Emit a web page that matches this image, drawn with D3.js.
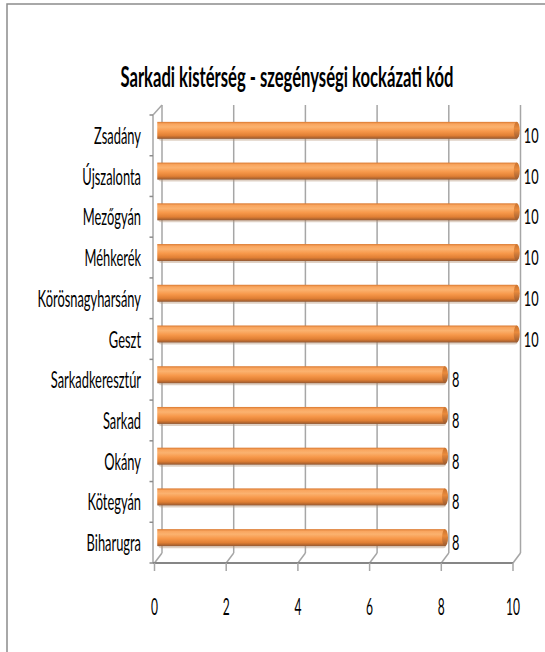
<!DOCTYPE html>
<html>
<head>
<meta charset="utf-8">
<script src="https://cdnjs.cloudflare.com/ajax/libs/d3/7.8.5/d3.min.js"></script>
<style>
  body { margin: 0; background: #fff; }
  svg { display: block; }
  text { font-family: Lato, "Open Sans", sans-serif; fill: #000; }
</style>
</head>
<body>
<div id="chart"></div>
<script>
// data, top to bottom as in the chart
const categories = ["Zsadány", "Újszalonta", "Mezőgyán", "Méhkerék", "Körösnagyharsány", "Geszt",
  "Sarkadkeresztúr", "Sarkad", "Okány", "Kötegyán", "Biharugra"];
const values = [10, 10, 10, 10, 10, 10, 8, 8, 8, 8, 8];
const tickValues = [0, 2, 4, 6, 8, 10];
const title = "Sarkadi kistérség - szegénységi kockázati kód";

const W = 545, H = 652;
const DX = 7.5, DY = -10; // 3d depth offset (front -> back)
const SX = 0.56;          // text is squeezed horizontally in the original

const svg = d3.select("#chart").append("svg")
  .attr("width", W).attr("height", H);

// chart area border
svg.append("rect")
  .attr("x", 7).attr("y", 4).attr("width", 600).attr("height", 700)
  .attr("fill", "none").attr("stroke", "#8c8c8c").attr("stroke-width", 1.5);

const x = d3.scaleLinear().domain([0, 10]).range([154.5, 513]);
const y = d3.scaleBand().domain(categories).range([115, 563]);
const floorY = y.range()[1];
const topY = y.range()[0];

// gradient for cylinder bars
const defs = svg.append("defs");
const grad = defs.append("linearGradient").attr("id", "barGrad")
  .attr("x1", 0).attr("y1", 0).attr("x2", 0).attr("y2", 1);
[[0, "#d9782f"], [0.12, "#f9a55e"], [0.3, "#fbb26f"], [0.55, "#f7984a"],
 [0.8, "#e07f34"], [0.92, "#b5672f"], [1, "#8f5a38"]]
  .forEach(([o, c]) => grad.append("stop").attr("offset", o).attr("stop-color", c));
const capGrad = defs.append("linearGradient").attr("id", "capGrad")
  .attr("x1", 0).attr("y1", 0).attr("x2", 0).attr("y2", 1);
[[0, "#c9732f"], [0.4, "#e98a3c"], [1, "#9a5a30"]]
  .forEach(([o, c]) => capGrad.append("stop").attr("offset", o).attr("stop-color", c));

const g = svg.append("g");

// back wall gridlines
g.selectAll(".grid").data(tickValues).join("line")
  .attr("class", "grid")
  .attr("x1", d => x(d) + DX).attr("x2", d => x(d) + DX)
  .attr("y1", topY + DY).attr("y2", floorY + DY)
  .attr("stroke", "#a6a6a6").attr("stroke-width", 1.5);

// floor slants
g.selectAll(".slant").data(tickValues).join("line")
  .attr("class", "slant")
  .attr("x1", d => x(d) + DX).attr("y1", floorY + DY)
  .attr("x2", d => x(d)).attr("y2", floorY)
  .attr("stroke", "#a6a6a6").attr("stroke-width", 1.5);

// left wall
g.append("line")
  .attr("x1", x(0) - 1.5).attr("x2", x(0) - 1.5)
  .attr("y1", topY).attr("y2", floorY)
  .attr("stroke", "#a6a6a6").attr("stroke-width", 1.5);
g.append("line")
  .attr("x1", x(0) - 1.5).attr("y1", topY)
  .attr("x2", x(0) + DX).attr("y2", topY + DY)
  .attr("stroke", "#a6a6a6").attr("stroke-width", 1.5);
// left wall ticks at band edges
const edges = categories.map(c => y(c)).concat([floorY]);
g.selectAll(".ytick").data(edges).join("line")
  .attr("class", "ytick")
  .attr("x1", x(0) - 5).attr("x2", x(0) - 1.5)
  .attr("y1", d => d).attr("y2", d => d)
  .attr("stroke", "#8c8c8c").attr("stroke-width", 1.5);

// floor front edge + ticks
g.append("line")
  .attr("x1", x(0) - 1.5).attr("x2", x(10))
  .attr("y1", floorY).attr("y2", floorY)
  .attr("stroke", "#868686").attr("stroke-width", 2);
g.selectAll(".xtick").data(tickValues).join("line")
  .attr("class", "xtick")
  .attr("x1", d => x(d)).attr("x2", d => x(d))
  .attr("y1", floorY).attr("y2", floorY + 8)
  .attr("stroke", "#a6a6a6").attr("stroke-width", 1.5);

// bars (cylinders at mid depth)
const barH = 17;
const rows = categories.map((c, i) => ({ cat: c, v: values[i] }));
const bars = g.selectAll(".bar").data(rows).join("g").attr("class", "bar");
const cy = d => y(d.cat) + y.bandwidth() / 2 + DY / 2;
const x0 = x(0) + DX / 2 - 1;
const xe = d => x(d.v) + DX / 2;

// soft shadow under bar
bars.append("rect")
  .attr("x", x0 + 1).attr("y", d => cy(d) - barH / 2 + 2)
  .attr("width", d => xe(d) - x0).attr("height", barH)
  .attr("rx", 3)
  .attr("fill", "#b8997f").attr("opacity", 0.45);
bars.append("rect")
  .attr("x", x0).attr("y", d => cy(d) - barH / 2)
  .attr("width", d => xe(d) - x0).attr("height", barH)
  .attr("fill", "url(#barGrad)");
bars.append("ellipse")
  .attr("cx", d => xe(d)).attr("cy", d => cy(d))
  .attr("rx", 3).attr("ry", barH / 2)
  .attr("fill", "url(#capGrad)");

// value labels
bars.append("text")
  .attr("transform", d => `translate(${xe(d) + 7},${y(d.cat) + y.bandwidth() / 2 + 7.5}) scale(0.58,1)`)
  .attr("font-size", 22)
  .text(d => d.v);

// category labels
g.selectAll(".cat").data(categories).join("text")
  .attr("class", "cat")
  .attr("text-anchor", "end")
  .attr("transform", d => `translate(141,${y(d) + y.bandwidth() / 2 + 8.5}) scale(${SX},1)`)
  .attr("font-size", 23)
  .text(d => d);

// x tick labels
g.selectAll(".xlab").data(tickValues).join("text")
  .attr("class", "xlab")
  .attr("text-anchor", "middle")
  .attr("transform", d => `translate(${x(d)},615) scale(0.5,1)`)
  .attr("font-size", 24)
  .text(d => d);

// title
svg.append("text")
  .attr("text-anchor", "middle")
  .attr("transform", `translate(287,87) scale(0.594,1)`)
  .attr("font-size", 28)
  .attr("font-weight", "bold")
  .text(title);
</script>
</body>
</html>
